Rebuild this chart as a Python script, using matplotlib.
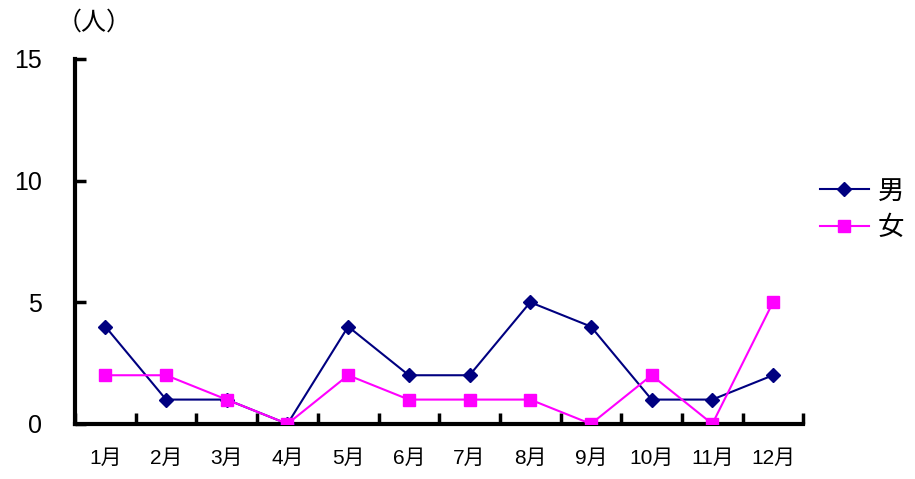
import matplotlib
matplotlib.use("Agg")
import matplotlib.pyplot as plt
import numpy as np

plt.rcParams['font.family'] = ['Liberation Sans', 'Noto Sans CJK JP']

# 月別の人数
months = ["1月", "2月", "3月", "4月", "5月", "6月", "7月", "8月", "9月", "10月", "11月", "12月"]
male = [4, 1, 1, 0, 4, 2, 2, 5, 4, 1, 1, 2]
female = [2, 2, 1, 0, 2, 1, 1, 1, 0, 2, 0, 5]

fig = plt.figure(figsize=(9.15, 4.79), dpi=100)
ax = fig.add_axes([0.082, 0.115, 0.796, 0.762])

x = np.arange(len(months))
ax.plot(x, male, color="#000080", marker="D", markersize=7.5, linewidth=1.5, label="男", zorder=3)
ax.plot(x, female, color="#FF00FF", marker="s", markersize=8, linewidth=1.5, label="女", zorder=3)

ax.set_xlim(-0.5, len(months) - 0.5)
ax.set_ylim(0, 15)
ax.set_yticks([0, 5, 10, 15])

# 目盛りは区切り位置に内向き、ラベルは中央
ax.set_xticks(np.arange(-0.5, len(months)), minor=False)
ax.set_xticklabels([""] * (len(months) + 1))
ax.set_xticks(x, minor=True)
ax.set_xticklabels(months, minor=True, fontsize=15)
ax.tick_params(axis="x", which="major", direction="in", length=8, width=2.5)
ax.tick_params(axis="x", which="minor", length=0, pad=18)
ax.tick_params(axis="y", direction="in", length=8, width=2.5, labelsize=18, pad=24)

for side in ["top", "right"]:
    ax.spines[side].set_visible(False)
for side in ["left", "bottom"]:
    ax.spines[side].set_linewidth(3)
ax.spines["left"].set_capstyle("projecting")

fig.text(0.062, 0.952, "（人）", fontsize=18, ha="left", va="center")

fig.legend(loc="center left", bbox_to_anchor=(0.896, 0.562), frameon=False,
           fontsize=19, handlelength=1.85, handletextpad=0.35, labelspacing=0.45,
           borderpad=0, borderaxespad=0)

fig.savefig("out.png", dpi=100)
